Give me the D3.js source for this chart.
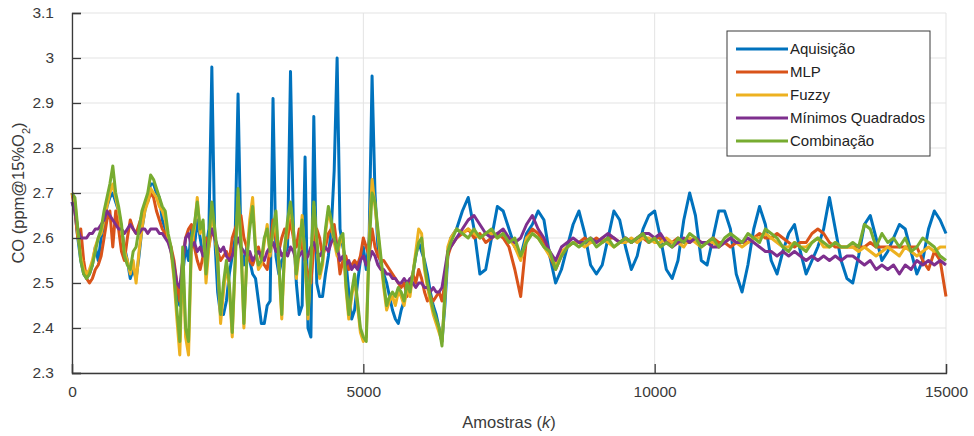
<!DOCTYPE html>
<html>
<head>
<meta charset="utf-8">
<script src="https://cdn.jsdelivr.net/npm/d3@7"></script>
<style>
  body { margin: 0; background: #fff; }
  svg { font-family: "Liberation Sans", Arial, sans-serif; }
</style>
</head>
<body>
<div id="chart"></div>
<script>
// amostras: 0..6450 a cada 50, depois 6500..15000 a cada 100
const amostras = d3.range(0, 6500, 50).concat(d3.range(6500, 15001, 100));

const aquisicao = [
  2.68,2.66,2.60,2.55,2.52,2.51,2.52,2.54,2.58,2.55,2.60,2.63,2.67,2.69,2.70,2.68,2.66,2.62,2.58,2.55,
  2.51,2.53,2.51,2.56,2.62,2.66,2.69,2.72,2.72,2.70,2.69,2.64,2.62,2.60,2.57,2.53,2.47,2.45,2.52,2.58,
  2.55,2.62,2.58,2.64,2.60,2.56,2.58,2.62,2.98,2.60,2.48,2.43,2.43,2.46,2.52,2.56,2.60,2.92,2.58,2.54,
  2.58,2.55,2.52,2.51,2.46,2.41,2.41,2.45,2.46,2.91,2.56,2.52,2.55,2.56,2.58,2.97,2.62,2.50,2.43,2.45,
  2.78,2.40,2.38,2.87,2.50,2.47,2.47,2.52,2.56,2.62,2.75,3.00,2.62,2.58,2.55,2.48,2.42,2.44,2.50,2.55,
  2.58,2.53,2.60,2.96,2.70,2.58,2.54,2.52,2.50,2.47,2.44,2.42,2.41,2.44,2.46,2.48,2.50,2.52,2.56,2.59,
  2.57,2.55,2.52,2.48,2.45,2.43,2.40,2.37,2.45,2.56,
  2.60,2.62,2.66,2.69,2.62,2.52,2.53,2.60,2.67,2.66,2.62,2.58,2.56,2.61,2.63,2.66,2.64,2.56,2.50,2.53,
  2.58,2.63,2.66,2.61,2.54,2.52,2.54,2.60,2.66,2.64,2.58,2.53,2.56,2.62,2.65,2.66,2.60,2.53,2.51,2.55,
  2.64,2.70,2.65,2.55,2.54,2.60,2.66,2.66,2.62,2.52,2.48,2.54,2.62,2.67,2.63,2.55,2.52,2.57,2.61,2.63,
  2.57,2.52,2.55,2.58,2.62,2.69,2.62,2.55,2.51,2.50,2.56,2.63,2.65,2.60,2.55,2.57,2.60,2.63,2.62,2.57,
  2.52,2.55,2.62,2.66,2.64,2.61
];

const mlp = [
  2.70,2.66,2.60,2.62,2.55,2.51,2.50,2.51,2.53,2.54,2.56,2.60,2.64,2.66,2.58,2.66,2.62,2.57,2.55,2.60,
  2.64,2.62,2.61,2.63,2.65,2.67,2.68,2.70,2.69,2.66,2.64,2.62,2.61,2.60,2.58,2.55,2.50,2.46,2.55,2.60,
  2.62,2.63,2.58,2.55,2.53,2.56,2.60,2.58,2.62,2.60,2.57,2.55,2.56,2.57,2.55,2.60,2.62,2.64,2.65,2.60,
  2.58,2.55,2.54,2.56,2.58,2.55,2.54,2.53,2.58,2.64,2.60,2.57,2.60,2.62,2.60,2.64,2.60,2.58,2.62,2.58,
  2.55,2.52,2.50,2.58,2.62,2.60,2.56,2.58,2.61,2.62,2.63,2.58,2.52,2.55,2.56,2.53,2.54,2.55,2.54,2.56,
  2.60,2.58,2.56,2.62,2.58,2.56,2.55,2.55,2.54,2.53,2.52,2.51,2.50,2.49,2.50,2.47,2.50,2.52,2.50,2.53,
  2.51,2.48,2.46,2.47,2.46,2.47,2.48,2.46,2.50,2.56,
  2.58,2.60,2.61,2.62,2.60,2.61,2.59,2.60,2.61,2.60,2.58,2.53,2.47,2.60,2.62,2.61,2.59,2.56,2.53,2.56,
  2.58,2.59,2.59,2.60,2.59,2.60,2.59,2.60,2.60,2.59,2.60,2.59,2.60,2.60,2.59,2.60,2.60,2.59,2.59,2.60,
  2.59,2.59,2.60,2.59,2.59,2.60,2.59,2.59,2.58,2.59,2.59,2.59,2.60,2.61,2.60,2.60,2.61,2.60,2.59,2.58,
  2.59,2.59,2.61,2.62,2.61,2.59,2.58,2.58,2.58,2.58,2.58,2.58,2.59,2.58,2.58,2.58,2.58,2.58,2.58,2.58,
  2.58,2.55,2.53,2.57,2.55,2.47
];

const fuzzy = [
  2.70,2.68,2.61,2.56,2.53,2.52,2.53,2.55,2.58,2.60,2.61,2.64,2.67,2.70,2.72,2.69,2.66,2.62,2.57,2.55,
  2.52,2.55,2.50,2.57,2.62,2.66,2.68,2.71,2.70,2.69,2.67,2.66,2.64,2.60,2.57,2.51,2.42,2.34,2.56,2.38,
  2.34,2.58,2.62,2.69,2.61,2.63,2.50,2.58,2.66,2.61,2.55,2.41,2.48,2.54,2.49,2.38,2.54,2.69,2.60,2.40,
  2.56,2.64,2.69,2.58,2.53,2.54,2.59,2.63,2.56,2.61,2.64,2.54,2.42,2.57,2.63,2.67,2.61,2.51,2.57,2.65,
  2.55,2.42,2.54,2.67,2.59,2.51,2.54,2.61,2.66,2.63,2.59,2.56,2.59,2.60,2.49,2.42,2.47,2.51,2.45,2.39,
  2.37,2.38,2.60,2.73,2.67,2.61,2.55,2.49,2.44,2.46,2.47,2.45,2.48,2.47,2.45,2.49,2.47,2.52,2.57,2.62,
  2.61,2.53,2.49,2.46,2.43,2.41,2.39,2.37,2.47,2.58,
  2.60,2.62,2.61,2.62,2.61,2.60,2.61,2.61,2.60,2.61,2.60,2.58,2.55,2.60,2.61,2.60,2.58,2.56,2.54,2.57,
  2.58,2.59,2.59,2.58,2.59,2.59,2.60,2.59,2.58,2.59,2.59,2.60,2.59,2.60,2.60,2.59,2.59,2.60,2.59,2.59,
  2.58,2.60,2.59,2.58,2.59,2.59,2.58,2.59,2.60,2.59,2.58,2.59,2.60,2.60,2.61,2.60,2.59,2.58,2.58,2.59,
  2.58,2.58,2.59,2.60,2.58,2.58,2.59,2.58,2.58,2.58,2.57,2.58,2.57,2.56,2.57,2.58,2.57,2.56,2.58,2.57,
  2.56,2.57,2.58,2.57,2.58,2.58
];

const minimosQuadrados = [
  2.68,2.66,2.62,2.60,2.60,2.60,2.61,2.61,2.62,2.62,2.63,2.64,2.66,2.65,2.64,2.63,2.62,2.62,2.61,2.62,
  2.63,2.62,2.61,2.61,2.62,2.62,2.61,2.62,2.62,2.62,2.61,2.61,2.60,2.59,2.57,2.54,2.50,2.49,2.55,2.60,
  2.61,2.58,2.59,2.57,2.58,2.56,2.57,2.60,2.62,2.60,2.58,2.57,2.58,2.56,2.55,2.56,2.58,2.60,2.58,2.57,
  2.56,2.57,2.55,2.56,2.57,2.56,2.55,2.57,2.58,2.59,2.57,2.58,2.56,2.57,2.56,2.58,2.57,2.55,2.56,2.57,
  2.55,2.56,2.58,2.59,2.57,2.56,2.57,2.58,2.57,2.59,2.60,2.58,2.55,2.56,2.54,2.55,2.53,2.54,2.53,2.55,
  2.56,2.54,2.55,2.57,2.56,2.54,2.53,2.53,2.52,2.52,2.51,2.51,2.50,2.50,2.51,2.50,2.51,2.50,2.49,2.50,
  2.50,2.49,2.49,2.48,2.49,2.48,2.48,2.49,2.53,2.57,
  2.58,2.60,2.62,2.64,2.65,2.63,2.61,2.60,2.61,2.62,2.60,2.59,2.60,2.63,2.65,2.62,2.60,2.57,2.55,2.58,
  2.59,2.60,2.59,2.59,2.60,2.59,2.60,2.61,2.60,2.59,2.60,2.59,2.60,2.61,2.61,2.60,2.61,2.59,2.58,2.59,
  2.60,2.59,2.60,2.59,2.59,2.58,2.58,2.59,2.60,2.59,2.59,2.60,2.59,2.58,2.57,2.57,2.56,2.57,2.56,2.57,
  2.56,2.55,2.56,2.55,2.56,2.55,2.56,2.55,2.56,2.56,2.55,2.54,2.55,2.53,2.54,2.53,2.54,2.52,2.54,2.53,
  2.55,2.54,2.55,2.54,2.55,2.54
];

const combinacao = [
  2.70,2.69,2.62,2.55,2.52,2.51,2.52,2.54,2.57,2.60,2.62,2.66,2.69,2.72,2.76,2.70,2.67,2.63,2.56,2.54,
  2.53,2.57,2.58,2.62,2.66,2.68,2.70,2.74,2.73,2.71,2.69,2.67,2.66,2.61,2.58,2.52,2.44,2.37,2.58,2.40,
  2.37,2.60,2.63,2.68,2.62,2.64,2.52,2.60,2.68,2.62,2.56,2.43,2.50,2.55,2.50,2.39,2.55,2.71,2.58,2.41,
  2.55,2.62,2.67,2.57,2.54,2.55,2.60,2.62,2.57,2.62,2.66,2.55,2.43,2.58,2.64,2.68,2.62,2.52,2.58,2.64,
  2.56,2.43,2.55,2.68,2.60,2.52,2.55,2.62,2.67,2.64,2.60,2.57,2.60,2.61,2.50,2.43,2.48,2.52,2.46,2.40,
  2.38,2.37,2.58,2.70,2.68,2.62,2.56,2.50,2.45,2.47,2.48,2.47,2.49,2.48,2.46,2.50,2.48,2.52,2.56,2.59,
  2.60,2.54,2.50,2.47,2.44,2.42,2.40,2.36,2.48,2.57,
  2.59,2.62,2.61,2.60,2.62,2.60,2.61,2.62,2.60,2.61,2.59,2.60,2.56,2.59,2.61,2.60,2.58,2.57,2.53,2.56,
  2.58,2.59,2.58,2.59,2.60,2.58,2.59,2.60,2.58,2.59,2.60,2.59,2.60,2.61,2.59,2.60,2.58,2.59,2.58,2.60,
  2.59,2.61,2.60,2.58,2.59,2.60,2.58,2.60,2.61,2.60,2.59,2.61,2.60,2.59,2.62,2.61,2.60,2.58,2.57,2.59,
  2.58,2.57,2.59,2.60,2.59,2.58,2.59,2.58,2.58,2.59,2.58,2.63,2.62,2.58,2.61,2.59,2.60,2.58,2.60,2.57,
  2.58,2.60,2.59,2.58,2.56,2.55
];

const series = [
  { nome: 'Aquisição', valores: aquisicao, cor: '#0072BD' },
  { nome: 'MLP', valores: mlp, cor: '#D95319' },
  { nome: 'Fuzzy', valores: fuzzy, cor: '#EDB120' },
  { nome: 'Mínimos Quadrados', valores: minimosQuadrados, cor: '#7E2F8E' },
  { nome: 'Combinação', valores: combinacao, cor: '#77AC30' }
];

const xTicks = [0, 5000, 10000, 15000];
const yTicks = [2.3, 2.4, 2.5, 2.6, 2.7, 2.8, 2.9, 3, 3.1];

const margin = { top: 13, right: 28, bottom: 63, left: 72 };
const width = 974 - margin.left - margin.right;
const height = 436 - margin.top - margin.bottom;

const svg = d3.select('#chart').append('svg')
  .attr('width', 974)
  .attr('height', 436)
  .append('g')
  .attr('transform', `translate(${margin.left},${margin.top})`);

const x = d3.scaleLinear().domain([0, 15000]).range([0, width]);
const y = d3.scaleLinear().domain([2.3, 3.1]).range([height, 0]);

// grade
svg.append('g').selectAll('line').data(yTicks).join('line')
  .attr('x1', 0).attr('x2', width)
  .attr('y1', d => y(d)).attr('y2', d => y(d))
  .attr('stroke', '#e3e3e3').attr('stroke-width', 1);
svg.append('g').selectAll('line').data(xTicks).join('line')
  .attr('y1', 0).attr('y2', height)
  .attr('x1', d => x(d)).attr('x2', d => x(d))
  .attr('stroke', '#e3e3e3').attr('stroke-width', 1);

// linhas
const line = d3.line()
  .x((d, i) => x(amostras[i]))
  .y(d => y(d));

svg.append('g').selectAll('path').data(series).join('path')
  .attr('fill', 'none')
  .attr('stroke', d => d.cor)
  .attr('stroke-width', 3)
  .attr('stroke-linejoin', 'round')
  .attr('d', d => line(d.valores));

// eixos (ticks para dentro, estilo MATLAB)
const xAxis = d3.axisBottom(x).tickValues(xTicks).tickSize(-9).tickPadding(13).tickFormat(d3.format('d'));
const yAxis = d3.axisLeft(y).tickValues(yTicks).tickSize(-9).tickPadding(18).tickFormat(d => d);

const gx = svg.append('g').attr('transform', `translate(0,${height})`).call(xAxis);
const gy = svg.append('g').call(yAxis);

[gx, gy].forEach(g => {
  g.select('.domain').attr('stroke', '#3a3a3a').attr('stroke-width', 1.3);
  g.selectAll('.tick line').attr('stroke', '#3a3a3a').attr('stroke-width', 1.3);
  g.selectAll('.tick text').attr('fill', '#3a3a3a').style('font-size', '15.5px')
    .style('font-family', '"Liberation Sans", Arial, sans-serif');
});

// rótulos
svg.append('text')
  .attr('x', width / 2).attr('y', height + 55)
  .attr('text-anchor', 'middle')
  .attr('fill', '#3a3a3a')
  .style('font-size', '16.5px')
  .html('Amostras (<tspan font-style="italic">k</tspan>)');

svg.append('text')
  .attr('transform', `translate(${-48},${height / 2}) rotate(-90)`)
  .attr('text-anchor', 'middle')
  .attr('fill', '#3a3a3a')
  .style('font-size', '16.5px')
  .html('CO (ppm@15%O<tspan baseline-shift="sub" font-size="11px">2</tspan>)');

// legenda
const legend = svg.append('g').attr('transform', `translate(${727 - margin.left},${31 - margin.top})`);
legend.append('rect')
  .attr('width', 203).attr('height', 125)
  .attr('fill', '#fff').attr('stroke', '#3a3a3a').attr('stroke-width', 1);

const item = legend.selectAll('g.item').data(series).join('g')
  .attr('class', 'item')
  .attr('transform', (d, i) => `translate(0,${18 + i * 23})`);
item.append('line')
  .attr('x1', 9).attr('x2', 61)
  .attr('stroke', d => d.cor).attr('stroke-width', 3);
item.append('text')
  .attr('x', 63).attr('dy', '0.35em')
  .attr('fill', '#222')
  .style('font-size', '15px')
  .text(d => d.nome);
</script>
</body>
</html>
